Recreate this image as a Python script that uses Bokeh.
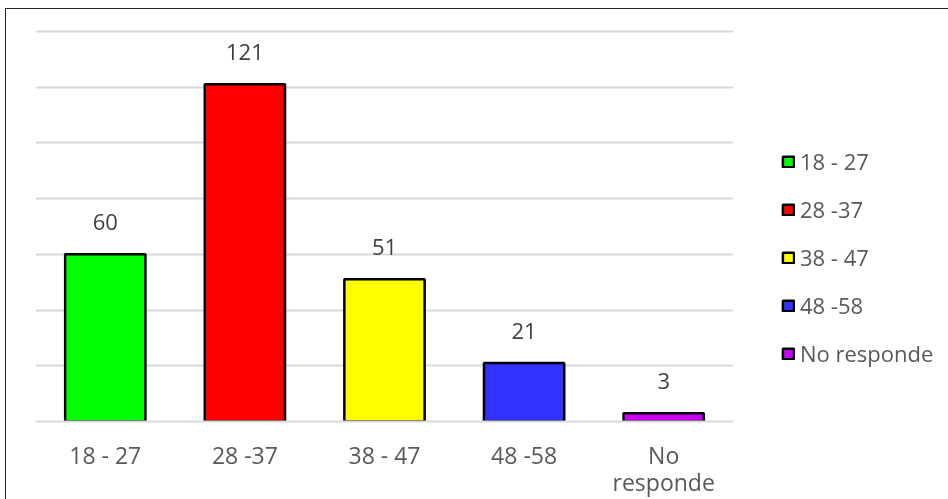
from bokeh.plotting import figure
from bokeh.layouts import row
from bokeh.models import (FactorRange, Range1d, FixedTicker, Legend, LegendItem,
                          ColumnDataSource, CategoricalAxis)
from bokeh.core.properties import value
from bokeh.embed import file_html
from bokeh.resources import INLINE

categories = ["18 - 27", "28 -37", "38 - 47", "48 -58", "No responde"]
counts = [60, 121, 51, 21, 3]
colors = ["#00ff00", "#ff0000", "#ffff00", "#3333ff", "#cc00ff"]
grid_ticks = [20, 40, 60, 80, 100, 120, 140]
tick_labels_line1 = ["18 - 27", "28 -37", "38 - 47", "48 -58", "No"]
tick_labels_line2 = [" ", "  ", "   ", "    ", "responde"]

FONT = "Open Sans"
H = 491

p = figure(width=737, height=H, output_backend="svg", toolbar_location=None,
           x_range=FactorRange(*categories, range_padding=0), y_range=Range1d(0, 141),
           x_axis_location=None, y_axis_location=None,
           min_border_left=29, min_border_right=10, min_border_top=19, min_border_bottom=0)
p.outline_line_color = None
p.background_fill_color = "white"
p.border_fill_color = "white"
p.extra_x_ranges = {"line1": FactorRange(*tick_labels_line1, range_padding=0),
                    "line2": FactorRange(*tick_labels_line2, range_padding=0)}

renderers = []
for cat, cnt, col in zip(categories, counts, colors):
    src = ColumnDataSource(dict(x=[cat], top=[cnt]))
    r = p.vbar(x="x", top="top", width=0.575, source=src, fill_color=col,
               line_color="black", line_width=2.5)
    renderers.append(r)

lab_src = ColumnDataSource(dict(x=categories, y=counts, t=[str(c) for c in counts]))
p.text(x="x", y="y", text="t", source=lab_src, text_align="center", text_baseline="middle",
       y_offset=-32, text_font=value(FONT), text_font_size="22px", text_color="#404040")

p.ygrid.ticker = FixedTicker(ticks=grid_ticks)
p.ygrid.grid_line_color = "#d9d9d9"
p.ygrid.grid_line_width = 2
p.xgrid.grid_line_color = None

def style_axis(ax, standoff):
    ax.major_tick_line_color = None
    ax.minor_tick_line_color = None
    ax.major_tick_out = 0
    ax.major_tick_in = 0
    ax.major_label_standoff = standoff
    ax.major_label_text_font = FONT
    ax.major_label_text_font_size = "23px"
    ax.major_label_text_color = "#595959"

ax1 = CategoricalAxis(x_range_name="line1")
ax1.axis_line_color = "#d9d9d9"
ax1.axis_line_width = 2
style_axis(ax1, 17)
p.add_layout(ax1, "below")

ax2 = CategoricalAxis(x_range_name="line2")
ax2.axis_line_color = None
style_axis(ax2, -8)
p.add_layout(ax2, "below")

# legend in its own small figure (renderers hidden, only their legend swatches show)
lp = figure(width=205, height=490, output_backend="svg", toolbar_location=None,
            x_range=FactorRange(*categories), y_range=Range1d(0, 141),
            x_axis_location=None, y_axis_location=None,
            min_border_left=0, min_border_right=0, min_border_top=0, min_border_bottom=0)
lp.outline_line_color = None
lp.grid.visible = False
lp.border_fill_color = "white"
lrs = []
for cat, cnt, col in zip(categories, counts, colors):
    src = ColumnDataSource(dict(x=[cat], top=[cnt]))
    lrs.append(lp.vbar(x="x", top="top", width=0.5, source=src, fill_color=col,
                       line_color="black", line_width=2.5, visible=False))

legend = Legend(items=[LegendItem(label=c, renderers=[r]) for c, r in zip(categories, lrs)],
                location=(38, 52))
legend.padding = 0
legend.margin = 0
legend.border_line_alpha = 0
legend.background_fill_alpha = 0
legend.inactive_fill_alpha = 0
legend.glyph_width = 14
legend.glyph_height = 13
legend.label_height = 30
legend.spacing = 18
legend.label_standoff = 5
legend.label_text_font = FONT
legend.label_text_font_size = "22px"
legend.label_text_color = "#595959"
lp.add_layout(legend, "center")

layout = row(p, lp)
layout.styles = {"border-top": "1px solid #262626", "border-left": "1px solid #262626",
                 "position": "fixed", "left": "5px", "top": "8px"}

open("out.html", "w").write(file_html(layout, INLINE))
